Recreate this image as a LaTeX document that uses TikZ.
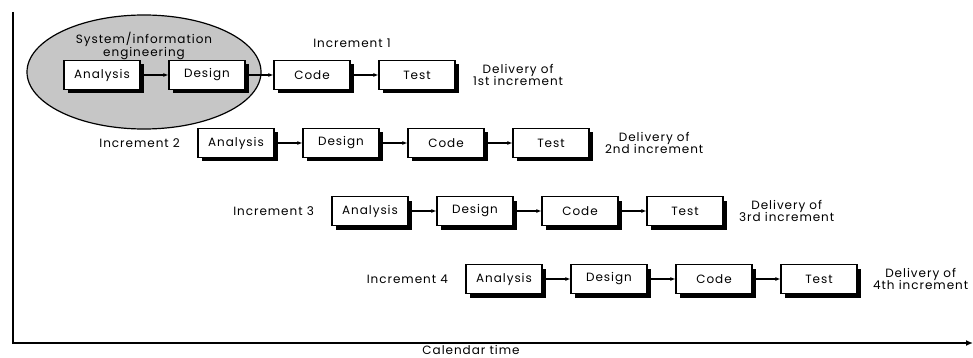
\documentclass[tikz,border=0pt]{standalone}
\usepackage{fontspec}
\setmainfont{Poppins}[LetterSpace=8]
\usetikzlibrary{arrows.meta,positioning}

\begin{document}
\begin{tikzpicture}[x=1pt,y=-1pt,
  font=\fontsize{12}{12.5}\selectfont,
  box/.style={draw, line width=1.2pt, rectangle, fill=white, minimum width=76pt, minimum height=29pt},
  boxshadow/.style={fill=black},
  flow/.style={draw, line width=1.5pt, -{Latex[length=5pt,width=4pt]}}]
\useasboundingbox (0,0) rectangle (973,358);
% time axes
\coordinate (top) at (13,12);
\coordinate (orig) at (13,343);
\coordinate (far) at (973,343);
\path[draw, line width=2pt, -{Latex[length=7pt,width=6pt]}] (top) -- (orig) -- (far);
\node (cal) at (471,350) {Calendar time};
% system/information engineering
\path[draw, line width=1.2pt, fill=gray!45] (144,72) ellipse (117 and 57);
\node[align=center] (sie) at (144,46) {System/information\\engineering};
% drop shadows, drawn first so the boxes cover them
\foreach \x/\y in {102/75,207/75,312/75,417/75}
  \foreach \r in {0,1,2,3}
    \path[boxshadow] (\x+134*\r-38+4,\y+68*\r-14.5+4) rectangle ++(76,29);
\begin{scope}
\node[box] (a1) at (102,75) {Analysis};
\node[box] (d1) at (207,75) {Design};
\node[box] (c1) at (312,75) {Code};
\node[box] (t1) at (417,75) {Test};
\path[flow] (a1) -- (d1);
\path[flow] (d1) -- (c1);
\path[flow] (c1) -- (t1);
\node (i1) at (352,43) {Increment 1};
\node[align=center, right=14pt of t1] (del1) {Delivery of\\1st increment};
\end{scope}
\begin{scope}[shift={(134,68)}]
\node[box] (a2) at (102,75) {Analysis};
\node[box] (d2) at (207,75) {Design};
\node[box] (c2) at (312,75) {Code};
\node[box] (t2) at (417,75) {Test};
\path[flow] (a2) -- (d2);
\path[flow] (d2) -- (c2);
\path[flow] (c2) -- (t2);
\node[left=14pt of a2] (i2) {Increment 2};
\node[align=center, right=12pt of t2] (del2) {Delivery of\\2nd increment};
\end{scope}
\begin{scope}[shift={(268,136)}]
\node[box] (a3) at (102,75) {Analysis};
\node[box] (d3) at (207,75) {Design};
\node[box] (c3) at (312,75) {Code};
\node[box] (t3) at (417,75) {Test};
\path[flow] (a3) -- (d3);
\path[flow] (d3) -- (c3);
\path[flow] (c3) -- (t3);
\node[left=14pt of a3] (i3) {Increment 3};
\node[align=center, right=12pt of t3] (del3) {Delivery of\\3rd increment};
\end{scope}
\begin{scope}[shift={(402,204)}]
\node[box] (a4) at (102,75) {Analysis};
\node[box] (d4) at (207,75) {Design};
\node[box] (c4) at (312,75) {Code};
\node[box] (t4) at (417,75) {Test};
\path[flow] (a4) -- (d4);
\path[flow] (d4) -- (c4);
\path[flow] (c4) -- (t4);
\node[left=14pt of a4] (i4) {Increment 4};
\node[align=center, right=12pt of t4] (del4) {Delivery of\\4th increment};
\end{scope}
\end{tikzpicture}
\end{document}
